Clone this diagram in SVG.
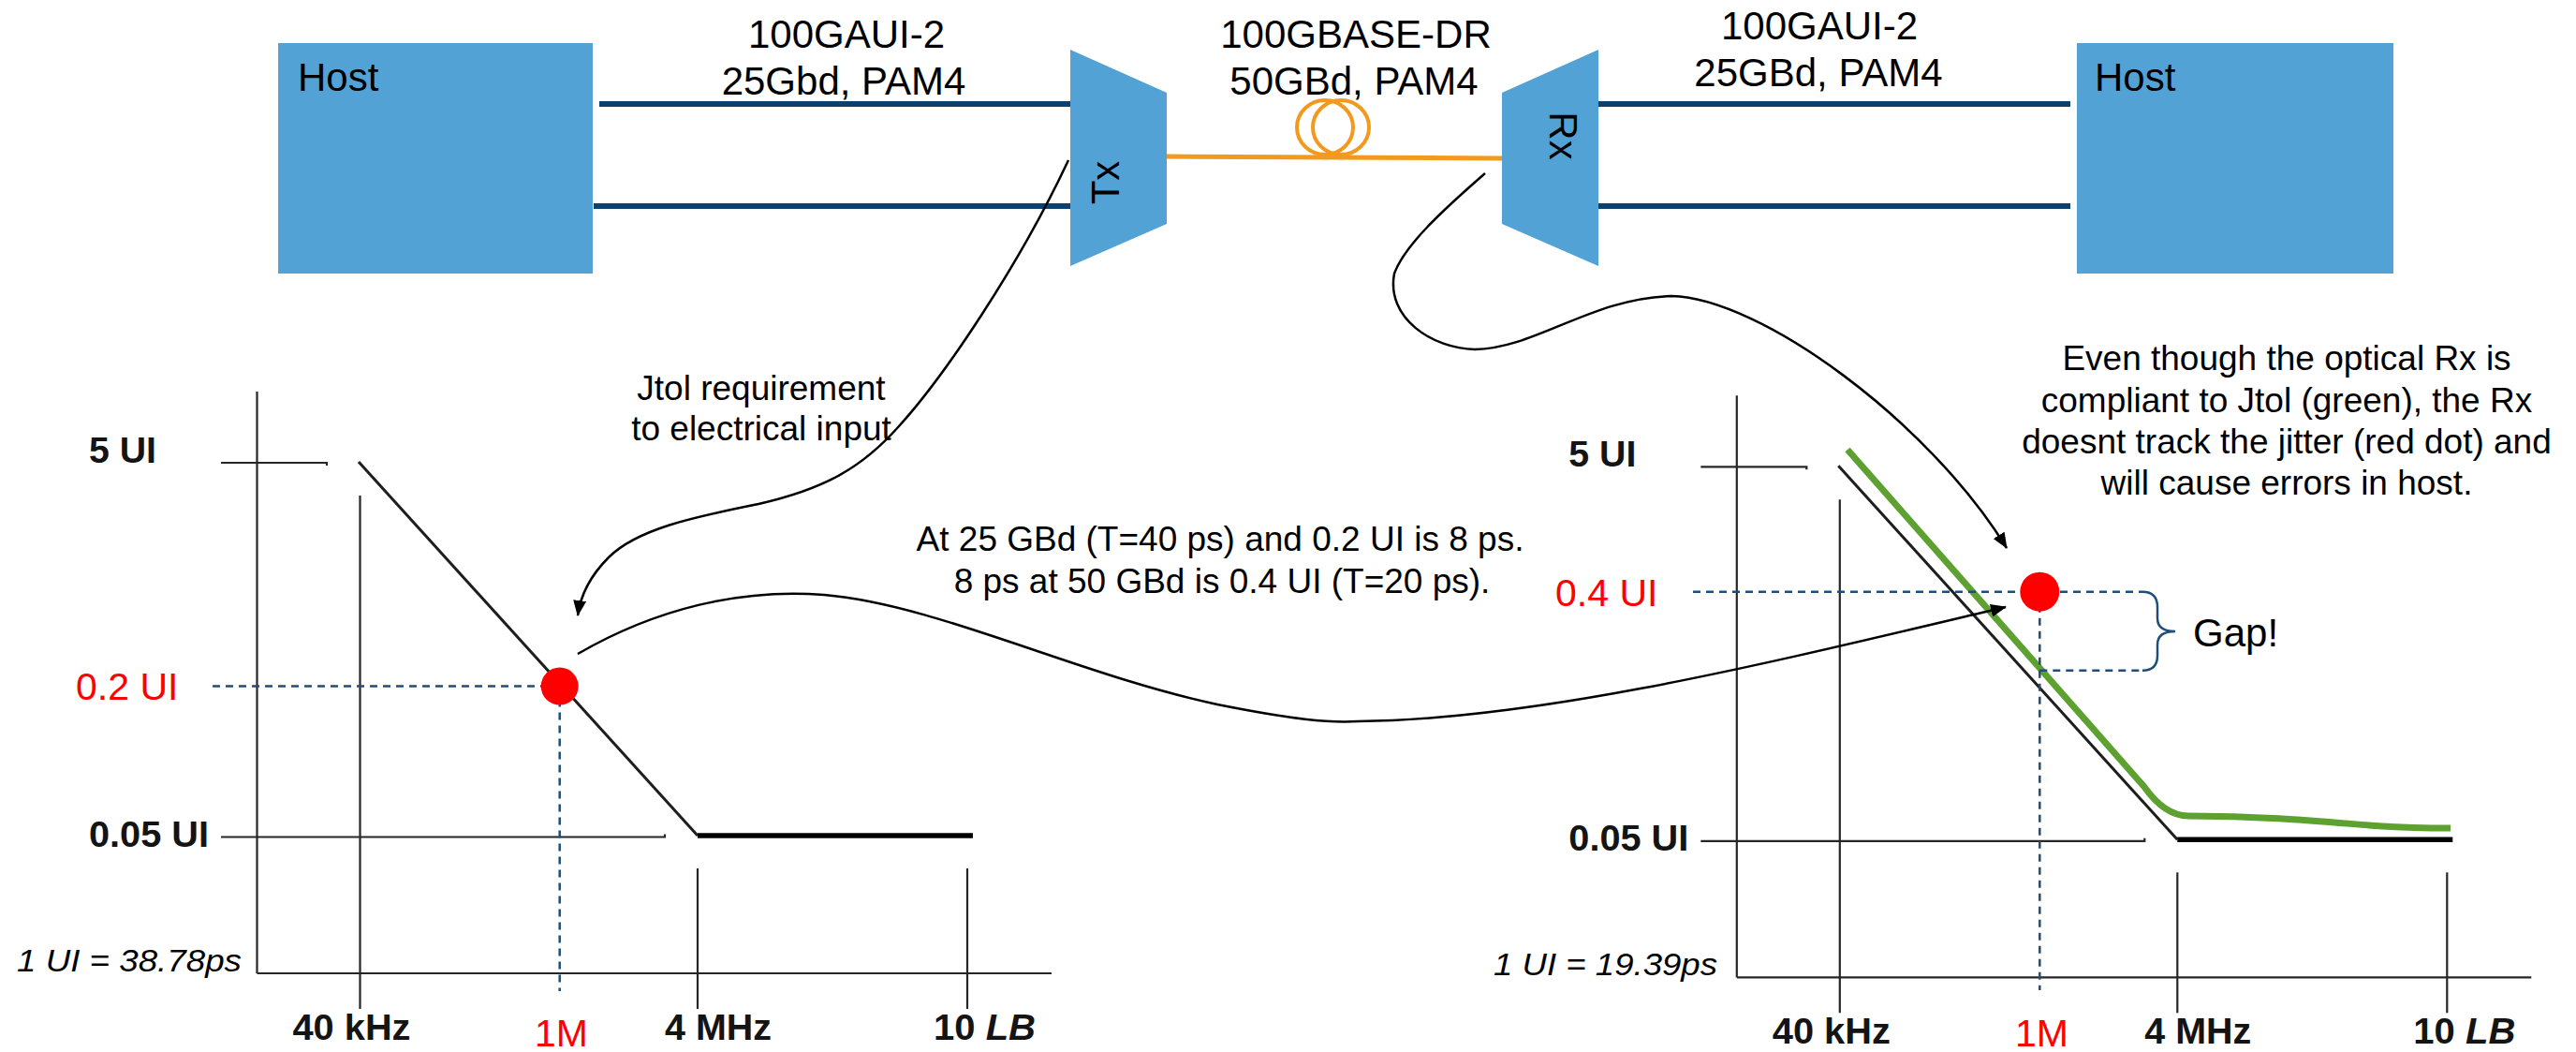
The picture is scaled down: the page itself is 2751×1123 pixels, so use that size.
<svg xmlns="http://www.w3.org/2000/svg" width="2751" height="1123" viewBox="0 0 2751 1123">
<style>
  text { font-family: "Liberation Sans", Arial, sans-serif; }
  .lbl { font-size: 42px; fill: #000; }
  .mid { text-anchor: middle; }
  .note { font-size: 37px; fill: #000; text-anchor: middle; }
  .box { fill: #52a2d6; }
  .bus { stroke: #0c406e; stroke-width: 6; fill: none; }
  .fiber { stroke: #f29a1f; stroke-width: 5; fill: none; }
  .coil { stroke: #f29a1f; stroke-width: 4; fill: none; }
  .axis { stroke: #262626; stroke-width: 2.2; fill: none; }
  .mask { stroke: #1e1e1e; stroke-width: 3; fill: none; }
  .floor { stroke: #000; stroke-width: 5.5; fill: none; }
  .guide { stroke: #1f4e79; stroke-width: 2.5; stroke-dasharray: 8 6; fill: none; }
  .brace { stroke: #1f4e79; stroke-width: 2.5; fill: none; }
  .dot { fill: #ff0000; }
  .tick { font-size: 38px; font-weight: bold; fill: #141414; }
  .val { font-size: 41px; fill: #ff0000; }
  .ui { font-size: 34px; font-style: italic; fill: #000; }
  .jtol { stroke: #5da131; stroke-width: 7; fill: none; }
  .link { stroke: #000; stroke-width: 2.5; fill: none; }
</style>
<defs>
  <marker id="head" markerUnits="userSpaceOnUse" markerWidth="18" markerHeight="14" refX="16" refY="7" orient="auto">
    <path d="M0,0 L17,7 L0,14 z" fill="#000"/>
  </marker>
</defs>

<!-- top: host / module / fiber chain -->
<g id="host-left">
  <rect class="box" x="297" y="46" width="336" height="246"/>
  <text class="lbl" x="318" y="97">Host</text>
</g>
<g id="label-aui-left">
  <text class="lbl mid" x="904" y="51">100GAUI-2</text>
  <text class="lbl mid" x="901" y="101">25Gbd, PAM4</text>
</g>
<g id="tx">
  <polygon class="box" points="1143,53 1246,99 1246,239 1143,284"/>
  <text class="lbl mid" transform="translate(1195,195) rotate(-90)">Tx</text>
</g>
<g id="fiber">
  <line class="fiber" x1="1246" y1="167" x2="1604" y2="169"/>
  <ellipse class="coil" cx="1415" cy="136" rx="30" ry="29"/>
  <ellipse class="coil" cx="1432" cy="136" rx="30" ry="29"/>
  <text class="lbl mid" x="1448" y="51">100GBASE-DR</text>
  <text class="lbl mid" x="1446" y="101">50GBd, PAM4</text>
</g>
<g id="rx">
  <polygon class="box" points="1604,99 1707,53 1707,284 1604,239"/>
  <text class="lbl mid" transform="translate(1655,145) rotate(90)">Rx</text>
</g>
<g id="label-aui-right">
  <text class="lbl mid" x="1943" y="42">100GAUI-2</text>
  <text class="lbl mid" x="1942" y="92">25GBd, PAM4</text>
</g>
<g id="host-right">
  <rect class="box" x="2218" y="46" width="338" height="246"/>
  <text class="lbl" x="2237" y="97">Host</text>
</g>

<!-- jitter tolerance mask, 25 GBd electrical input -->
<g id="jtol-chart-25g">
  <line class="axis" x1="274.5" y1="418" x2="274.5" y2="1039"/>
  <line class="axis" x1="274.5" y1="1039" x2="1123" y2="1039"/>
  <path class="axis" d="M236,494 H349 v3"/>
  <path class="axis" d="M236,893.5 H710 v-3"/>
  <line class="axis" x1="384.5" y1="529" x2="384.5" y2="1077"/>
  <line class="axis" x1="745" y1="927" x2="745" y2="1077"/>
  <line class="axis" x1="1033" y1="927" x2="1033" y2="1077"/>
  <line class="mask" x1="383" y1="493" x2="745" y2="892"/>
  <line class="floor" x1="745" y1="892" x2="1039" y2="892"/>
  <path class="guide" d="M227,732.6 H598 M597.7,732.6 V1058"/>
  <circle class="dot" cx="597.7" cy="732.6" r="20"/>
  <text class="tick" x="95" y="494" textLength="72" lengthAdjust="spacingAndGlyphs">5 UI</text>
  <text class="tick" x="95" y="904" textLength="128" lengthAdjust="spacingAndGlyphs">0.05 UI</text>
  <text class="tick" x="312.5" y="1110" textLength="126" lengthAdjust="spacingAndGlyphs">40 kHz</text>
  <text class="tick" x="710" y="1110" textLength="114" lengthAdjust="spacingAndGlyphs">4 MHz</text>
  <text class="tick" x="997" y="1110" textLength="109" lengthAdjust="spacingAndGlyphs">10 <tspan font-style="italic">LB</tspan></text>
  <text class="ui" x="18" y="1037" textLength="240" lengthAdjust="spacingAndGlyphs">1 UI = 38.78ps</text>
  <text class="val" x="81" y="747">0.2 UI</text>
  <text class="val" x="571" y="1117">1M</text>
</g>

<!-- jitter tolerance mask, 50 GBd optical Rx -->
<g id="jtol-chart-50g">
  <g transform="translate(1580.3,4.3)">
    <line class="axis" x1="274.5" y1="418" x2="274.5" y2="1039"/>
    <line class="axis" x1="274.5" y1="1039" x2="1123" y2="1039"/>
    <path class="axis" d="M236,494 H349 v3"/>
    <path class="axis" d="M236,893.5 H710 v-3"/>
    <line class="axis" x1="384.5" y1="529" x2="384.5" y2="1077"/>
    <line class="axis" x1="745" y1="927" x2="745" y2="1077"/>
    <line class="axis" x1="1033" y1="927" x2="1033" y2="1077"/>
    <line class="mask" x1="383" y1="493" x2="745" y2="892"/>
    <line class="floor" x1="745" y1="892" x2="1039" y2="892"/>
    <text class="tick" x="95" y="494" textLength="72" lengthAdjust="spacingAndGlyphs">5 UI</text>
    <text class="tick" x="95" y="904" textLength="128" lengthAdjust="spacingAndGlyphs">0.05 UI</text>
    <text class="tick" x="312.5" y="1110" textLength="126" lengthAdjust="spacingAndGlyphs">40 kHz</text>
    <text class="tick" x="710" y="1110" textLength="114" lengthAdjust="spacingAndGlyphs">4 MHz</text>
    <text class="tick" x="997" y="1110" textLength="109" lengthAdjust="spacingAndGlyphs">10 <tspan font-style="italic">LB</tspan></text>
  </g>
  <path class="jtol" d="M1973,480 L2290,840 Q2312,871 2337,871 C2420,871 2480,877 2530,881 C2570,884 2600,884 2617,884"/>
  <path class="guide" d="M1808,631.7 H2288 M2178.3,631.7 V1057 M2178.3,715.7 H2288"/>
  <path class="brace" d="M2288,631.7 Q2304,631.7 2304,648 L2304,660 Q2304,674 2323,674 Q2304,674 2304,688 L2304,700 Q2304,715.7 2288,715.7"/>
  <circle class="dot" cx="2178.3" cy="631.7" r="21"/>
  <text class="val" x="1661" y="647">0.4 UI</text>
  <text class="lbl" x="2342" y="690" font-size="41">Gap!</text>
  <text class="ui" x="1595" y="1041" textLength="239" lengthAdjust="spacingAndGlyphs">1 UI = 19.39ps</text>
  <text class="val" x="2152" y="1117">1M</text>
</g>

<!-- annotations -->
<g id="note-jtol">
  <text class="note" x="813" y="427">Jtol requirement</text>
  <text class="note" x="813" y="470">to electrical input</text>
</g>
<g id="note-ui">
  <text class="note" x="1303" y="588">At 25 GBd (T=40 ps) and 0.2 UI is 8 ps.</text>
  <text class="note" x="1305" y="633">8 ps at 50 GBd is 0.4 UI (T=20 ps).</text>
</g>
<g id="note-rx">
  <text class="note" x="2442" y="395">Even though the optical Rx is</text>
  <text class="note" x="2442" y="440">compliant to Jtol (green), the Rx</text>
  <text class="note" x="2442" y="484">doesnt track the jitter (red dot) and</text>
  <text class="note" x="2442" y="528">will cause errors in host.</text>
</g>

<!-- connectors -->
<g id="connectors">
  <line class="bus" x1="640" y1="111" x2="1143" y2="111"/>
  <line class="bus" x1="634" y1="220" x2="1143" y2="220"/>
  <line class="bus" x1="1707" y1="111" x2="2211" y2="111"/>
  <line class="bus" x1="1707" y1="220" x2="2211" y2="220"/>
  <path class="link" marker-end="url(#head)" d="M1141,171 C1090,280 1010,400 960,455 C920,500 880,522 810,538 C740,552 680,565 650,595 C630,615 620,635 617,657"/>
  <path class="link" marker-end="url(#head)" d="M617,698 C700,650 790,628 880,635 C1000,645 1150,720 1300,752 C1380,768 1420,772 1450,770 C1650,768 1900,705 2142,648"/>
  <path class="link" marker-end="url(#head)" d="M1586,185 C1540,225 1500,262 1489,292 C1480,340 1530,372 1575,373 C1640,372 1700,318 1785,316 C1880,318 2060,450 2143,585"/>
</g>
</svg>
